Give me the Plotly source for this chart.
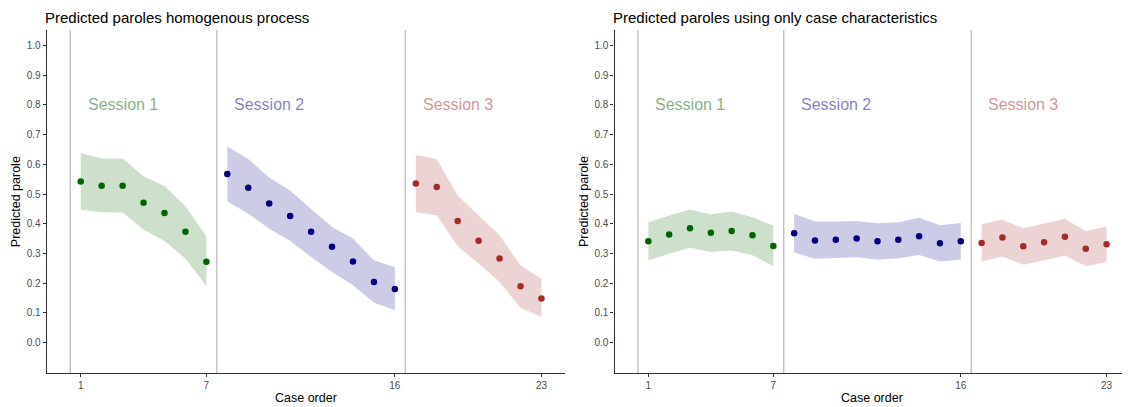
import plotly.graph_objects as go

# ---- data ----
sessions = ["Session 1", "Session 2", "Session 3"]
case_s1 = [1, 2, 3, 4, 5, 6, 7]
case_s2 = [8, 9, 10, 11, 12, 13, 14, 15, 16]
case_s3 = [17, 18, 19, 20, 21, 22, 23]

# Left panel: homogenous process
hom_fit_s1 = [0.542, 0.528, 0.528, 0.471, 0.436, 0.373, 0.272]
hom_hi_s1 = [0.638, 0.620, 0.620, 0.560, 0.527, 0.460, 0.357]
hom_lo_s1 = [0.447, 0.439, 0.438, 0.380, 0.342, 0.283, 0.190]
hom_fit_s2 = [0.568, 0.521, 0.468, 0.426, 0.373, 0.323, 0.273, 0.204, 0.180]
hom_hi_s2 = [0.660, 0.618, 0.556, 0.512, 0.450, 0.389, 0.350, 0.277, 0.254]
hom_lo_s2 = [0.475, 0.434, 0.383, 0.342, 0.288, 0.238, 0.193, 0.134, 0.109]
hom_fit_s3 = [0.536, 0.524, 0.409, 0.343, 0.283, 0.190, 0.148]
hom_hi_s3 = [0.632, 0.618, 0.495, 0.428, 0.361, 0.260, 0.215]
hom_lo_s3 = [0.439, 0.429, 0.324, 0.266, 0.204, 0.117, 0.087]

# Right panel: case characteristics only
cc_fit_s1 = [0.341, 0.364, 0.385, 0.370, 0.376, 0.361, 0.325]
cc_hi_s1 = [0.405, 0.428, 0.448, 0.432, 0.441, 0.422, 0.394]
cc_lo_s1 = [0.277, 0.299, 0.319, 0.305, 0.310, 0.294, 0.257]
cc_fit_s2 = [0.368, 0.344, 0.346, 0.350, 0.341, 0.346, 0.358, 0.334, 0.341]
cc_hi_s2 = [0.434, 0.408, 0.408, 0.409, 0.402, 0.405, 0.420, 0.395, 0.403]
cc_lo_s2 = [0.303, 0.282, 0.285, 0.287, 0.279, 0.284, 0.295, 0.273, 0.280]
cc_fit_s3 = [0.335, 0.354, 0.324, 0.338, 0.356, 0.316, 0.331]
cc_hi_s3 = [0.398, 0.414, 0.385, 0.400, 0.417, 0.376, 0.391]
cc_lo_s3 = [0.273, 0.290, 0.262, 0.276, 0.293, 0.257, 0.271]

session_breaks = [0.5, 7.5, 16.5]
label_x = [3, 10, 19]
label_y = 0.8
x_ticks = [1, 7, 16, 23]
y_ticks = [0.0, 0.1, 0.2, 0.3, 0.4, 0.5, 0.6, 0.7, 0.8, 0.9, 1.0]
titles = ["Predicted paroles homogenous process",
          "Predicted paroles using only case characteristics"]

point_colors = ["#006400", "#000080", "#A52A2A"]
ribbon_colors = ["rgba(0,100,0,0.2)", "rgba(0,0,128,0.2)", "rgba(165,42,42,0.2)"]
label_colors = ["rgba(0,100,0,0.5)", "rgba(0,0,128,0.5)", "rgba(165,42,42,0.5)"]

panels = [
    [(case_s1, hom_fit_s1, hom_lo_s1, hom_hi_s1),
     (case_s2, hom_fit_s2, hom_lo_s2, hom_hi_s2),
     (case_s3, hom_fit_s3, hom_lo_s3, hom_hi_s3)],
    [(case_s1, cc_fit_s1, cc_lo_s1, cc_hi_s1),
     (case_s2, cc_fit_s2, cc_lo_s2, cc_hi_s2),
     (case_s3, cc_fit_s3, cc_lo_s3, cc_hi_s3)],
]

FONT = "Liberation Sans, Arial, sans-serif"
W, H = 1122, 399  # page has an 8px body margin
fig = go.Figure()
domains = [[38.7 / W, 557 / W], [606.5 / W, 1.0]]
for p, groups in enumerate(panels):
    xa = "x" if p == 0 else "x2"
    ya = "y" if p == 0 else "y2"
    for i, (xs, fit, lo, hi) in enumerate(groups):
        fig.add_trace(go.Scatter(
            x=list(xs) + list(xs)[::-1], y=list(hi) + list(lo)[::-1],
            fill="toself", fillcolor=ribbon_colors[i], line=dict(width=0),
            mode="lines", hoverinfo="skip", showlegend=False, xaxis=xa, yaxis=ya))
        fig.add_trace(go.Scatter(
            x=xs, y=fit, mode="markers",
            marker=dict(color=point_colors[i], size=6.5),
            showlegend=False, xaxis=xa, yaxis=ya))
    for b in session_breaks:
        fig.add_shape(type="line", xref=xa, yref=f"{ya} domain", x0=b, x1=b, y0=0, y1=1,
                      line=dict(color="#bdbdbd", width=1.3), layer="below")
    for i, s in enumerate(sessions):
        fig.add_annotation(x=label_x[i], y=label_y, xref=xa, yref=ya, text=s,
                           showarrow=False, font=dict(size=16, color=label_colors[i], family=FONT))
    # title
    fig.add_annotation(x=domains[p][0], y=1.0, xref="paper", yref="paper", yshift=22,
                       xshift=-3, text=titles[p], showarrow=False, xanchor="left", yanchor="top",
                       borderpad=0, font=dict(size=15, color="black", family=FONT))
    # y title
    fig.add_annotation(x=domains[p][0], y=0.5, xref="paper", yref="paper", xshift=-31,
                       text="Predicted parole", textangle=-90, showarrow=False,
                       xanchor="center", yanchor="middle",
                       font=dict(size=12.5, color="black", family=FONT))
    # x title
    fig.add_annotation(x=(domains[p][0] + domains[p][1]) / 2, y=0, xref="paper", yref="paper",
                       yshift=-16, text="Case order", showarrow=False,
                       xanchor="center", yanchor="top",
                       font=dict(size=12.5, color="black", family=FONT))

axis_common = dict(showgrid=False, zeroline=False, showline=True, linecolor="#333333",
                   linewidth=1.3, ticks="outside", ticklen=3, tickcolor="#333333",
                   tickfont=dict(size=10, color="#4d4d4d", family=FONT), automargin=False)
fig.update_layout(
    width=W, height=H,
    margin=dict(l=0, r=0, t=22, b=34),
    plot_bgcolor="white", paper_bgcolor="white",
    font=dict(family=FONT),
    xaxis=dict(domain=domains[0], range=[-0.625, 24.125], tickvals=x_ticks, anchor="y", **axis_common),
    yaxis=dict(domain=[0, 1], range=[-0.1025, 1.0525], tickvals=y_ticks, tickformat=".1f", anchor="x", **axis_common),
    xaxis2=dict(domain=domains[1], range=[-0.625, 24.125], tickvals=x_ticks, anchor="y2", **axis_common),
    yaxis2=dict(domain=[0, 1], range=[-0.1025, 1.0525], tickvals=y_ticks, tickformat=".1f", anchor="x2", **axis_common),
)
fig.write_html("out.html")
